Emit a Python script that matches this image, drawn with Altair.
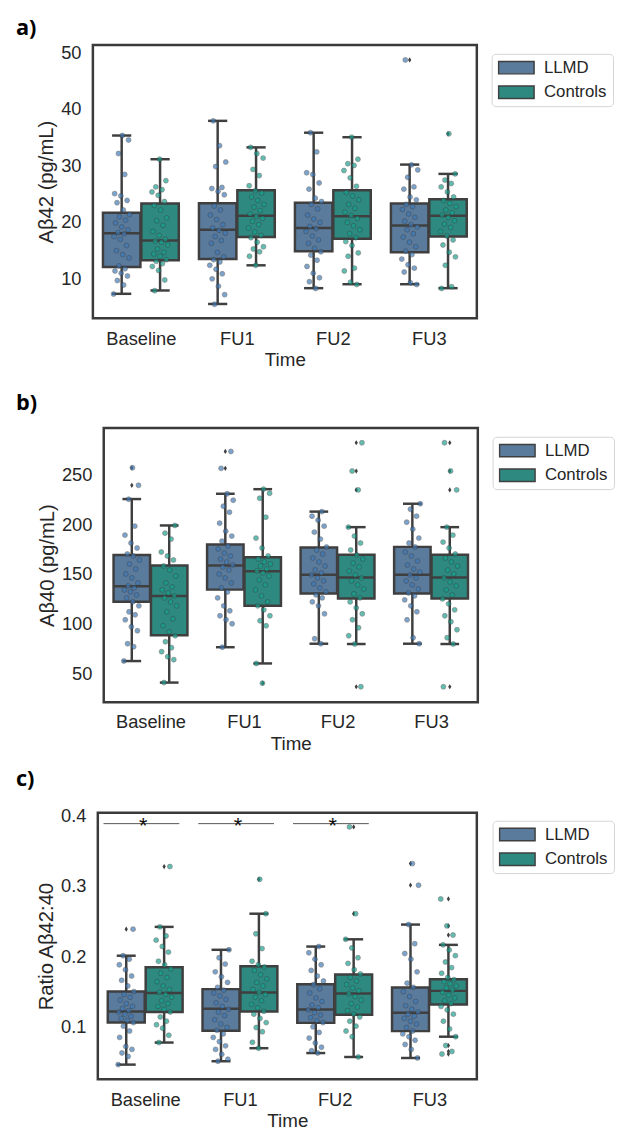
import altair as alt
import pandas as pd

times = ["Baseline", "FU1", "FU2", "FU3"]
groups = ["LLMD", "Controls"]

# ---------------- panel a: Abeta42 (pg/mL) ----------------
# box stats per time: (lower whisker, q1, median, q3, upper whisker)
a_box_llmd = [(7.25, 12.0, 18.0, 21.6, 35.3), (5.45, 13.4, 18.6, 23.3, 37.9),
              (8.25, 14.8, 18.9, 23.4, 35.8), (8.95, 14.6, 19.35, 23.25, 30.15)]
a_box_ctrl = [(7.84, 13.2, 16.7, 23.25, 31.1), (12.3, 17.3, 21.1, 25.6, 33.2),
              (8.95, 17.0, 21.0, 25.6, 35.0), (8.25, 17.4, 21.1, 24.0, 28.5)]
a_out_llmd = [[], [], [], [48.7]]
a_out_ctrl = [[], [], [], [35.6]]
a_pts_llmd_baseline = [7.2, 8.8, 9.6, 10.4, 10.9, 11.3, 11.7, 12.2, 13.6, 14.2, 14.9, 15.8, 16.9, 17.4, 17.9, 18.1,
                       18.6, 19.1, 19.8, 20.3, 20.9, 21.3, 22.1, 23.4, 23.8, 24.6, 25.0, 28.4, 32.1, 34.5, 35.3]
a_pts_ctrl_baseline = [7.8, 9.7, 11.4, 12.1, 12.6, 13.0, 13.3, 13.9, 14.3, 14.6, 15.2, 15.9, 16.4, 16.6, 16.9, 17.6,
                       18.3, 19.4, 20.2, 20.7, 22.1, 22.9, 23.6, 24.7, 25.3, 25.7, 26.2, 27.3, 31.1]
a_pts_llmd_fu1 = [5.4, 7.1, 8.6, 9.9, 10.8, 11.6, 12.3, 12.9, 13.3, 13.8, 14.6, 16.2, 16.7, 17.4, 18.0, 18.5, 18.9,
                  19.5, 20.4, 21.2, 22.1, 22.8, 24.8, 25.4, 25.9, 26.1, 29.8, 30.6, 33.5, 37.9]
a_pts_ctrl_fu1 = [12.3, 13.9, 14.7, 15.2, 15.6, 16.4, 17.2, 17.6, 18.2, 18.9, 19.5, 20.1, 20.6, 21.0, 21.4, 22.0,
                  22.6, 23.1, 23.8, 24.4, 25.1, 25.5, 26.4, 28.2, 29.3, 31.3, 32.1, 33.2]
a_pts_llmd_fu2 = [8.2, 9.4, 10.1, 10.9, 12.1, 13.2, 14.1, 14.7, 15.3, 16.2, 16.8, 17.5, 18.3, 18.8, 19.2, 19.9, 20.5,
                  21.2, 22.3, 23.1, 23.6, 24.2, 25.8, 26.9, 28.4, 28.7, 32.4, 35.8]
a_pts_ctrl_fu2 = [8.9, 9.3, 11.3, 11.8, 13.9, 14.5, 15.8, 16.5, 17.2, 17.9, 18.6, 19.3, 19.9, 20.6, 21.1, 21.7, 22.4,
                  23.1, 23.9, 24.6, 25.2, 26.3, 27.8, 29.1, 30.0, 30.3, 31.1, 35.0]
a_pts_llmd_fu3 = [8.9, 9.2, 11.1, 11.8, 12.4, 13.4, 14.2, 14.8, 15.6, 16.4, 17.3, 17.9, 18.6, 19.1, 19.5, 20.1, 20.8,
                  21.4, 22.2, 22.7, 23.1, 23.9, 24.4, 25.8, 26.2, 27.9, 29.2, 30.1, 48.7]
a_pts_ctrl_fu3 = [8.2, 8.5, 12.3, 13.8, 14.6, 15.9, 16.8, 17.5, 18.3, 19.0, 19.6, 20.2, 20.8, 21.2, 21.6, 22.1, 22.7,
                  23.3, 23.8, 24.4, 25.3, 26.2, 26.8, 27.4, 28.5, 35.6]

# ---------------- panel b: Abeta40 (pg/mL) ----------------
b_box_llmd = [(62.6, 122.1, 137.6, 169.0, 225.2), (76.5, 134.3, 158.4, 179.6, 230.5),
              (80.0, 130.3, 149.2, 176.6, 212.6), (80.0, 130.3, 149.2, 177.2, 220.5)]
b_box_ctrl = [(41.0, 88.4, 128.0, 158.4, 198.7), (60.2, 118.1, 152.8, 166.7, 235.1),
              (79.7, 125.4, 146.5, 169.3, 197.0), (79.7, 125.4, 146.5, 169.3, 197.0)]
b_out_llmd = [[256.6, 239.0], [273.0, 256.0], [], []]
b_out_ctrl = [[], [40.4], [281.7, 253.3, 234.4, 36.8], [281.7, 253.3, 234.4, 36.8]]
b_pts_llmd_baseline = [62.6, 77, 80, 93, 97, 104, 109, 112, 118, 122, 126, 129, 132, 134, 136, 138, 141, 146, 150,
                       155, 160, 164, 168, 170, 176, 181, 189, 198, 225, 239, 256.6]
b_pts_ctrl_baseline = [41, 64, 67, 72, 76, 82, 88, 92, 98, 105, 112, 118, 122, 126, 128, 131, 134, 137, 141, 148,
                       154, 158, 164, 168, 172, 185, 191, 198.7]
b_pts_llmd_fu1 = [76.5, 100, 104, 108, 113, 118, 126, 132, 136, 141, 146, 150, 154, 157, 159, 162, 165, 168, 171,
                  175, 178, 183, 188, 193, 201, 212, 218, 224, 230.5, 256, 273]
b_pts_ctrl_fu1 = [40.4, 60.2, 98, 103, 108, 114, 118, 122, 128, 134, 139, 144, 148, 151, 153, 155, 158, 160, 162,
                  165, 168, 176, 186, 207, 226, 231, 235.1]
b_pts_llmd_fu2 = [80, 85, 110, 118, 122, 126, 129, 132, 136, 140, 143, 146, 149, 151, 154, 158, 162, 166, 170, 174,
                  177, 185, 192, 198, 204, 208, 212.6]
b_pts_ctrl_fu2 = [36.8, 79.7, 88, 96, 104, 110, 116, 122, 126, 130, 135, 139, 143, 146, 149, 153, 157, 161, 165,
                  169, 174, 181, 188, 197, 234.4, 253.3, 281.7]
b_pts_llmd_fu3 = [80, 86, 104, 112, 118, 124, 128, 131, 135, 139, 143, 146, 149, 152, 155, 159, 163, 168, 172, 177,
                  181, 186, 195, 202, 208, 215, 220.5]
b_pts_ctrl_fu3 = [36.8, 79.7, 86, 94, 102, 108, 114, 120, 125, 129, 134, 138, 142, 146, 150, 154, 158, 162, 166,
                  170, 176, 182, 189, 197, 234.4, 253.3, 281.7]

# ---------------- panel c: ratio Abeta42:40 ----------------
c_box_llmd = [(0.0464, 0.106, 0.1218, 0.150, 0.2009), (0.0512, 0.0944, 0.1256, 0.1535, 0.2093),
              (0.0628, 0.1056, 0.1246, 0.1604, 0.2139), (0.0558, 0.0939, 0.120, 0.1558, 0.2451)]
c_box_ctrl = [(0.0777, 0.121, 0.1479, 0.1846, 0.2418), (0.0697, 0.1218, 0.1488, 0.186, 0.2605),
              (0.0572, 0.1172, 0.1474, 0.1744, 0.2242), (0.086, 0.1316, 0.151, 0.1674, 0.2163)]
c_out_llmd = [[0.2386], [], [], [0.3316, 0.3009]]
c_out_ctrl = [[0.3274], [0.3093], [0.3837, 0.2605], [0.2814, 0.2432, 0.2302, 0.0735, 0.0651, 0.0614]]
c_pts_llmd_baseline = [0.0464, 0.058, 0.063, 0.068, 0.072, 0.085, 0.094, 0.101, 0.106, 0.109, 0.112, 0.115, 0.118,
                       0.121, 0.123, 0.126, 0.129, 0.133, 0.138, 0.142, 0.146, 0.150, 0.158, 0.166, 0.172, 0.181,
                       0.188, 0.196, 0.2009, 0.2386]
c_pts_ctrl_baseline = [0.0777, 0.088, 0.098, 0.103, 0.108, 0.114, 0.121, 0.125, 0.129, 0.133, 0.137, 0.142, 0.146,
                       0.149, 0.153, 0.158, 0.164, 0.170, 0.176, 0.182, 0.188, 0.193, 0.206, 0.214, 0.223, 0.229,
                       0.2418, 0.3274]
c_pts_llmd_fu1 = [0.0512, 0.054, 0.061, 0.068, 0.073, 0.079, 0.085, 0.090, 0.095, 0.099, 0.104, 0.110, 0.116, 0.121,
                  0.125, 0.129, 0.134, 0.139, 0.144, 0.148, 0.152, 0.156, 0.163, 0.171, 0.178, 0.189, 0.198, 0.2093]
c_pts_ctrl_fu1 = [0.0697, 0.078, 0.093, 0.099, 0.106, 0.112, 0.118, 0.122, 0.127, 0.132, 0.137, 0.142, 0.146, 0.149,
                  0.153, 0.158, 0.163, 0.168, 0.174, 0.180, 0.185, 0.188, 0.193, 0.211, 0.232, 0.2605, 0.3093]
c_pts_llmd_fu2 = [0.0628, 0.066, 0.071, 0.077, 0.084, 0.092, 0.100, 0.106, 0.109, 0.113, 0.117, 0.120, 0.124, 0.127,
                  0.131, 0.136, 0.141, 0.148, 0.154, 0.160, 0.165, 0.172, 0.180, 0.188, 0.196, 0.205, 0.2139]
c_pts_ctrl_fu2 = [0.0572, 0.086, 0.094, 0.101, 0.108, 0.114, 0.118, 0.123, 0.128, 0.133, 0.138, 0.143, 0.147, 0.151,
                  0.155, 0.160, 0.165, 0.170, 0.175, 0.181, 0.190, 0.198, 0.212, 0.2242, 0.2605, 0.3837]
c_pts_llmd_fu3 = [0.0558, 0.068, 0.075, 0.081, 0.086, 0.090, 0.094, 0.099, 0.104, 0.108, 0.112, 0.115, 0.118, 0.121,
                  0.125, 0.130, 0.136, 0.143, 0.150, 0.156, 0.162, 0.178, 0.196, 0.204, 0.218, 0.2451, 0.3009, 0.3316]
c_pts_ctrl_fu3 = [0.0614, 0.0651, 0.0735, 0.086, 0.097, 0.108, 0.118, 0.124, 0.129, 0.133, 0.137, 0.141, 0.145,
                  0.149, 0.152, 0.155, 0.158, 0.161, 0.164, 0.167, 0.170, 0.176, 0.184, 0.192, 0.201, 0.209, 0.2163,
                  0.2302, 0.2432, 0.2814]

# significance annotations (panel c)
sig_times = ["Baseline", "FU1", "FU2"]
sig_y = [0.3883, 0.3883, 0.3883]
sig_label = ["*", "*", "*"]

# ---------------- styling ----------------
BOX_COLORS = ["#5b7b9d", "#2e8a80"]
PT_COLORS = ["#3f78b4", "#169e8c"]
LINE = "#3f3f3f"
TXT = "#262626"
FONT = "Liberation Sans"
RECT_PATH = "M-1,-0.35L1,-0.35L1,0.35L-1,0.35Z"
DIAMOND = "M0,-1L0.62,0L0,1L-0.62,0Z"
OFFS = [-0.2, 0.2]
HALF_BOX = 0.195
HALF_CAP = 0.1
ALL_INDEP = dict(x="independent", y="independent", color="independent", fill="independent")


def build_panel(letter, letter_x, letter_y, ytitle, ydomain, yvalues, yformat, width, height,
                box_llmd, box_ctrl, pts_llmd, pts_ctrl, out_llmd, out_ctrl, legend_xy, sig=None):
    box_rows, pt_rows, out_rows = [], [], []
    for gi, (g, boxes, pts, outs) in enumerate([("LLMD", box_llmd, pts_llmd, out_llmd),
                                                ("Controls", box_ctrl, pts_ctrl, out_ctrl)]):
        for ti, t in enumerate(times):
            c = ti + OFFS[gi]
            lo, q1, med, q3, hi = boxes[ti]
            box_rows.append(dict(time=t, group=g, c=c, xl=c - HALF_BOX, xr=c + HALF_BOX,
                                 cl=c - HALF_CAP, cr=c + HALF_CAP, lo=lo, q1=q1, med=med, q3=q3, hi=hi))
            for i, v in enumerate(pts[ti]):
                frac = (i * 0.6180339887 + 0.31 * ti + 0.17 * gi) % 1.0
                pt_rows.append(dict(time=t, group=g, xj=c + (frac - 0.5) * 0.17, value=v))
            for v in outs[ti]:
                out_rows.append(dict(time=t, group=g, c=c, value=v))
    box_df = pd.DataFrame(box_rows)
    pt_df = pd.DataFrame(pt_rows)
    out_df = pd.DataFrame(out_rows)

    xscale = alt.Scale(domain=[-0.5, 3.5], nice=False, zero=False)
    xaxis = alt.Axis(values=[0, 1, 2, 3], title="Time",
                     labelExpr="['Baseline','FU1','FU2','FU3'][datum.value]")
    yscale = alt.Scale(domain=ydomain, nice=False, zero=False)
    yaxis = alt.Axis(values=yvalues, format=yformat, title=ytitle, titleFontSize=20.5, labelPadding=12,
                     titlePadding=4)

    def X(f):
        return alt.X(f, type="quantitative", scale=xscale, axis=xaxis)

    def Y(f):
        return alt.Y(f, type="quantitative", scale=yscale, axis=yaxis)

    base = alt.Chart(box_df)
    legend = alt.Legend(title=None, orient="none", legendX=legend_xy[0], legendY=legend_xy[1],
                        symbolType=RECT_PATH, symbolSize=1296, symbolStrokeColor=LINE,
                        symbolStrokeWidth=1.5, symbolOpacity=1, labelFontSize=17, labelFont=FONT,
                        labelColor=TXT, labelOffset=9, clipHeight=16, rowPadding=8, padding=6,
                        strokeColor="#d4d4d4", fillColor="white", cornerRadius=4)
    boxes = base.mark_rect(stroke=LINE, strokeWidth=2.5, opacity=1).encode(
        x=X("xl"), x2="xr", y=Y("q1"), y2="q3",
        color=alt.Color("group:N", scale=alt.Scale(domain=groups, range=BOX_COLORS), legend=legend))
    whisk_hi = base.mark_rule(color=LINE, strokeWidth=2.5).encode(x=X("c"), y=Y("q3"), y2="hi")
    whisk_lo = base.mark_rule(color=LINE, strokeWidth=2.5).encode(x=X("c"), y=Y("lo"), y2="q1")
    cap_hi = base.mark_rule(color=LINE, strokeWidth=2.5).encode(x=X("cl"), x2="cr", y=Y("hi"))
    cap_lo = base.mark_rule(color=LINE, strokeWidth=2.5).encode(x=X("cl"), x2="cr", y=Y("lo"))
    median = base.mark_rule(color=LINE, strokeWidth=2.5).encode(x=X("xl"), x2="xr", y=Y("med"))
    layers = [boxes, whisk_hi, whisk_lo, cap_hi, cap_lo, median]
    if len(out_df):
        layers.append(alt.Chart(out_df).mark_point(shape=DIAMOND, filled=True, size=28, color=LINE,
                                                   opacity=1).encode(x=X("c"), y=Y("value")))
    layers.append(alt.Chart(pt_df).mark_circle(size=25, opacity=0.68, stroke="#3a3a3a", strokeWidth=0.6).encode(
        x=X("xj"), y=Y("value"),
        fill=alt.Fill("group:N", scale=alt.Scale(domain=groups, range=PT_COLORS), legend=None)))
    if sig is not None:
        st, sy, sl = sig
        sdf = pd.DataFrame(dict(time=st, y=sy, label=sl,
                                x1=[times.index(t) - 0.44 for t in st],
                                x2=[times.index(t) + 0.36 for t in st],
                                xm=[times.index(t) - 0.02 for t in st]))
        sbase = alt.Chart(sdf)
        layers.append(sbase.mark_rule(color="#555555", strokeWidth=1).encode(x=X("x1"), x2="x2", y=Y("y")))
        layers.append(sbase.mark_text(fontSize=22, font=FONT, color="#111111", dy=9, baseline="alphabetic").encode(
            x=X("xm"), y=Y("y"), text="label:N"))
    layers.append(alt.Chart(pd.DataFrame({"t": [letter]})).mark_text(
        align="left", baseline="top", fontSize=22, fontWeight="bold", font="Open Sans", color="#000000").encode(
        x=alt.value(letter_x), y=alt.value(letter_y), text="t:N"))
    panel = alt.layer(*layers).properties(width=width, height=height)
    # a 1-px invisible spacer column lets each panel keep its own left edge
    spacer = alt.Chart(pd.DataFrame({"s": [""]})).mark_text(opacity=0).encode(
        text="s:N", x=alt.value(0), y=alt.value(0)).properties(
        width=1, height=1, view=alt.ViewBackground(strokeOpacity=0, strokeWidth=0))
    return alt.hconcat(spacer, panel, spacing=0).resolve_scale(**ALL_INDEP).resolve_legend(color="independent")


pa = build_panel("a)", -78, -27, "Aβ42 (pg/mL)", [2.9, 51.35], [10, 20, 30, 40, 50], "d", 389, 277,
                 a_box_llmd, a_box_ctrl,
                 [a_pts_llmd_baseline, a_pts_llmd_fu1, a_pts_llmd_fu2, a_pts_llmd_fu3],
                 [a_pts_ctrl_baseline, a_pts_ctrl_fu1, a_pts_ctrl_fu2, a_pts_ctrl_fu3],
                 a_out_llmd, a_out_ctrl, (404, 9))
pb = build_panel("b)", -89, -35, "Aβ40 (pg/mL)", [21.2, 296.6], [50, 100, 150, 200, 250], "d", 379, 278,
                 b_box_llmd, b_box_ctrl,
                 [b_pts_llmd_baseline, b_pts_llmd_fu1, b_pts_llmd_fu2, b_pts_llmd_fu3],
                 [b_pts_ctrl_baseline, b_pts_ctrl_fu1, b_pts_ctrl_fu2, b_pts_ctrl_fu3],
                 b_out_llmd, b_out_ctrl, (394, 9))
pc = build_panel("c)", -83, -44, "Ratio Aβ42:40", [0.0255, 0.4036], [0.1, 0.2, 0.3, 0.4], ".1f", 384, 270,
                 c_box_llmd, c_box_ctrl,
                 [c_pts_llmd_baseline, c_pts_llmd_fu1, c_pts_llmd_fu2, c_pts_llmd_fu3],
                 [c_pts_ctrl_baseline, c_pts_ctrl_fu1, c_pts_ctrl_fu2, c_pts_ctrl_fu3],
                 c_out_llmd, c_out_ctrl, (400, 8), sig=(sig_times, sig_y, sig_label))

bc = alt.vconcat(pb, pc, spacing=12).resolve_scale(**ALL_INDEP).resolve_legend(color="independent")
chart = alt.vconcat(pa, bc, spacing=20).resolve_scale(**ALL_INDEP).resolve_legend(
    color="independent"
).properties(
    padding={"left": 5, "top": 0, "right": 0, "bottom": 0}, background="white"
).configure_view(stroke="#3a3a3a", strokeWidth=2.5).configure_axis(
    domain=False, ticks=False, grid=False, labelFont=FONT, labelFontSize=18.5, labelColor=TXT,
    labelPadding=11, titleFont=FONT, titleFontSize=19, titleFontWeight="normal", titleColor=TXT,
    titlePadding=3
)

chart.save("out.html", embed_options={"renderer": "svg", "actions": False})
